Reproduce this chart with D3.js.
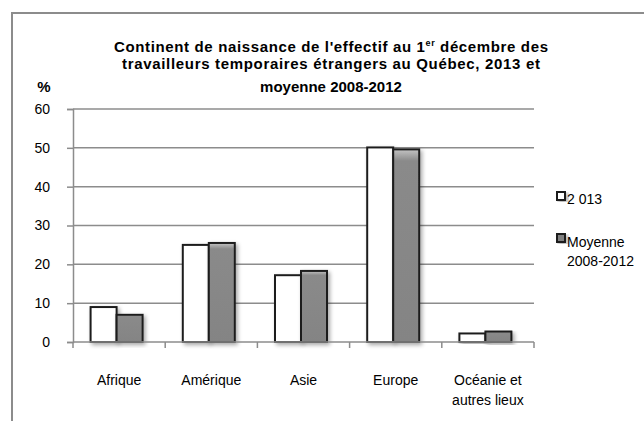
<!DOCTYPE html>
<html><head><meta charset="utf-8">
<script src="https://cdn.jsdelivr.net/npm/d3@7"></script>
<style>
html,body{margin:0;padding:0;background:#fff;}
svg{display:block;font-family:"Liberation Sans",Arial,sans-serif;}
</style></head>
<body><svg id="c" width="644" height="421"></svg>
<script>
const categories = [["Afrique"],["Amérique"],["Asie"],["Europe"],["Océanie et","autres lieux"]];
const catKeys = ["Afrique","Amérique","Asie","Europe","Océanie"];
const series2013 = [9.0, 25.0, 17.2, 50.1, 2.2];
const seriesMoy = [7.0, 25.5, 18.3, 49.6, 2.7];
const seriesNames = ["2 013", ["Moyenne","2008-2012"]];
const yTicks = [0,10,20,30,40,50,60];

const FS = 14;
const svg = d3.select("#c");
const defs = svg.append("defs");
const f = defs.append("filter").attr("id","sh").attr("x","-20%").attr("y","-20%").attr("width","160%").attr("height","140%");
f.append("feGaussianBlur").attr("in","SourceAlpha").attr("stdDeviation",2).attr("result","b");
f.append("feOffset").attr("in","b").attr("dx",2).attr("dy",2).attr("result","o");
f.append("feComponentTransfer").attr("in","o").attr("result","o2").append("feFuncA").attr("type","linear").attr("slope",0.35);
const m = f.append("feMerge"); m.append("feMergeNode").attr("in","o2"); m.append("feMergeNode").attr("in","SourceGraphic");
const g1 = defs.append("linearGradient").attr("id","gg").attr("x1",0).attr("y1",0).attr("x2",0).attr("y2",1);
g1.append("stop").attr("offset","0").attr("stop-color","#c4c4c4");
g1.append("stop").attr("offset","0.06").attr("stop-color","#8a8a8a");
g1.append("stop").attr("offset","1").attr("stop-color","#848484");

// outer border
svg.append("rect").attr("x",12).attr("y",13).attr("width",660).attr("height",440)
  .attr("fill","none").attr("stroke","#8c8c8c").attr("stroke-width",2);

const x0 = 73, x1 = 534, yTop = 109, yBot = 342;
const x = d3.scaleBand().domain(catKeys).range([x0,x1]);
const y = d3.scaleLinear().domain([0,60]).range([yBot,yTop]);

// gridlines
svg.append("g").selectAll("line").data(yTicks.filter(d=>d>0)).join("line")
  .attr("x1",x0).attr("x2",x1).attr("y1",d=>y(d)).attr("y2",d=>y(d))
  .attr("stroke","#8c8c8c").attr("stroke-width",1.5);

// y axis
const yAx = svg.append("g").attr("transform",`translate(${x0},0)`)
  .call(d3.axisLeft(y).tickValues(yTicks).tickSize(6).tickPadding(17));
yAx.attr("font-family",null).attr("font-size",null);
yAx.select(".domain").attr("stroke","#8c8c8c").attr("stroke-width",1.5);
yAx.selectAll(".tick line").attr("stroke","#8c8c8c").attr("stroke-width",1.5);
yAx.selectAll("text").attr("font-size",FS).attr("fill","#000");

// bars
const bw = 26;
const gBars = svg.append("g");
catKeys.forEach((k,i)=>{
  const cx = x(k) + x.bandwidth()/2 - 2.5;
  gBars.append("rect").attr("x",cx-bw).attr("y",y(series2013[i])).attr("width",bw).attr("height",y(0)-y(series2013[i]))
    .attr("fill","#fff").attr("stroke","#1e1e1e").attr("stroke-width",2).attr("filter","url(#sh)");
  gBars.append("rect").attr("x",cx).attr("y",y(seriesMoy[i])).attr("width",bw).attr("height",y(0)-y(seriesMoy[i]))
    .attr("fill","url(#gg)").attr("stroke","#1e1e1e").attr("stroke-width",2).attr("filter","url(#sh)");
});

// x axis
const xAx = svg.append("g").attr("transform",`translate(0,${yBot})`);
xAx.append("line").attr("x1",x0).attr("x2",x1).attr("stroke","#8c8c8c").attr("stroke-width",1.5);
xAx.selectAll("line.t").data(catKeys.concat(["end"])).join("line").attr("class","t")
  .attr("x1",(d,i)=>x0+i*x.bandwidth()).attr("x2",(d,i)=>x0+i*x.bandwidth()).attr("y1",0).attr("y2",6)
  .attr("stroke","#8c8c8c").attr("stroke-width",1.5);
const xl = xAx.selectAll("text").data(categories).join("text")
  .attr("x",(d,i)=>x(catKeys[i])+x.bandwidth()/2).attr("y",43)
  .attr("text-anchor","middle").attr("font-size",FS).attr("fill","#000");
xl.each(function(d){ const t=d3.select(this); d.forEach((s,j)=>t.append("tspan").attr("x",t.attr("x")).attr("dy",j?20:0).text(s)); });

// title
const TFS = 15;
const title = svg.append("text").attr("text-anchor","middle").attr("font-weight","bold").attr("font-size",TFS).attr("fill","#000")
  .attr("x",331).attr("y",52).attr("textLength",434).attr("lengthAdjust","spacing");
title.append("tspan").text("Continent de naissance de l'effectif au 1");
title.append("tspan").attr("font-size",9).attr("dy",-6).text("er");
title.append("tspan").attr("dy",6).text(" décembre des");
svg.append("text").attr("x",331).attr("y",69).attr("text-anchor","middle").attr("font-weight","bold").attr("font-size",TFS)
  .attr("textLength",418).attr("lengthAdjust","spacing").text("travailleurs temporaires étrangers au Québec, 2013 et");
svg.append("text").attr("x",331).attr("y",92).attr("text-anchor","middle").attr("font-weight","bold").attr("font-size",TFS).text("moyenne 2008-2012");
svg.append("text").attr("x",44).attr("y",92).attr("text-anchor","middle").attr("font-weight","bold").attr("font-size",TFS).text("%");

// legend
const lg = svg.append("g");
lg.append("rect").attr("x",557).attr("y",192).attr("width",8).attr("height",8).attr("fill","#fff").attr("stroke","#1e1e1e").attr("stroke-width",2).attr("filter","url(#sh)");
lg.append("text").attr("x",567).attr("y",204).attr("font-size",FS).text(seriesNames[0]);
lg.append("rect").attr("x",557).attr("y",234).attr("width",8).attr("height",8).attr("fill","#808080").attr("stroke","#1e1e1e").attr("stroke-width",2).attr("filter","url(#sh)");
const l2 = lg.append("text").attr("x",567).attr("y",247).attr("font-size",FS);
seriesNames[1].forEach((s,j)=>l2.append("tspan").attr("x",567).attr("dy",j?19:0).text(s));
</script></body></html>
